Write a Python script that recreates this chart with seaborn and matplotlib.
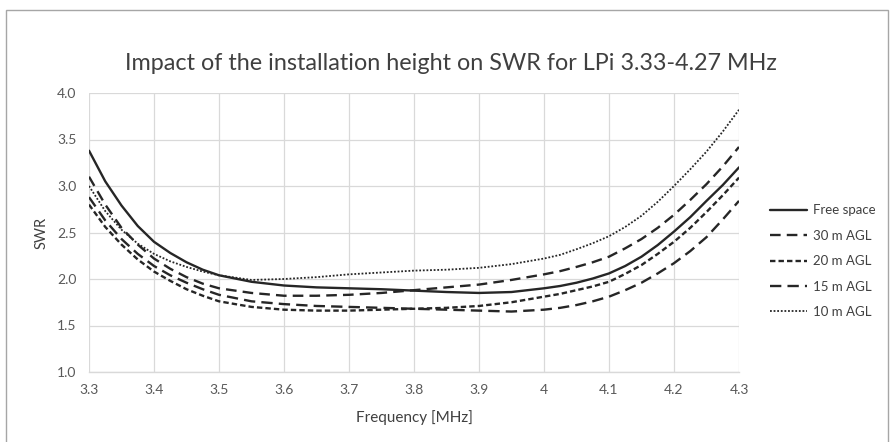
import numpy as np
import pandas as pd
import matplotlib
matplotlib.use("Agg")
import matplotlib.pyplot as plt
from matplotlib.patches import Rectangle
import seaborn as sns

freq = [3.300, 3.325, 3.350, 3.375, 3.400, 3.425, 3.450, 3.475, 3.500, 3.550,
        3.600, 3.650, 3.700, 3.750, 3.800, 3.850, 3.900, 3.950, 4.000, 4.025,
        4.050, 4.075, 4.100, 4.125, 4.150, 4.175, 4.200, 4.225, 4.250, 4.275,
        4.300]

free_space = [3.38, 3.05, 2.79, 2.57, 2.40, 2.28, 2.18, 2.10, 2.04, 1.97,
              1.93, 1.91, 1.90, 1.89, 1.875, 1.86, 1.85, 1.86, 1.90, 1.925,
              1.96, 2.005, 2.06, 2.14, 2.24, 2.365, 2.51, 2.665, 2.84, 3.01,
              3.20]
agl_30 = [3.10, 2.80, 2.55, 2.37, 2.22, 2.11, 2.02, 1.95, 1.90, 1.85,
          1.82, 1.82, 1.83, 1.85, 1.88, 1.91, 1.94, 1.99, 2.05, 2.085,
          2.13, 2.18, 2.24, 2.33, 2.43, 2.55, 2.69, 2.85, 3.02, 3.21,
          3.42]
agl_20 = [2.80, 2.56, 2.37, 2.21, 2.08, 1.98, 1.89, 1.82, 1.76, 1.70,
          1.67, 1.66, 1.66, 1.67, 1.68, 1.69, 1.71, 1.75, 1.81, 1.84,
          1.88, 1.92, 1.97, 2.055, 2.15, 2.27, 2.40, 2.55, 2.72, 2.90,
          3.09]
agl_15 = [2.88, 2.63, 2.43, 2.27, 2.14, 2.04, 1.96, 1.89, 1.83, 1.76,
          1.73, 1.71, 1.70, 1.69, 1.68, 1.67, 1.66, 1.65, 1.67, 1.69,
          1.72, 1.76, 1.81, 1.88, 1.96, 2.06, 2.17, 2.30, 2.45, 2.64,
          2.84]
agl_10 = [3.00, 2.73, 2.53, 2.38, 2.27, 2.19, 2.13, 2.08, 2.04, 1.99,
          2.00, 2.02, 2.05, 2.07, 2.09, 2.10, 2.12, 2.16, 2.22, 2.26,
          2.32, 2.385, 2.46, 2.56, 2.68, 2.83, 3.00, 3.18, 3.37, 3.585,
          3.82]

series_names = ["Free space", "30 m AGL", "20 m AGL", "15 m AGL", "10 m AGL"]
series_values = [free_space, agl_30, agl_20, agl_15, agl_10]

x_ticks = [3.3, 3.4, 3.5, 3.6, 3.7, 3.8, 3.9, 4.0, 4.1, 4.2, 4.3]
x_tick_labels = ["3.3", "3.4", "3.5", "3.6", "3.7", "3.8", "3.9", "4", "4.1", "4.2", "4.3"]
y_ticks = [1.0, 1.5, 2.0, 2.5, 3.0, 3.5, 4.0]

title = "Impact of the installation height on SWR for LPi 3.33-4.27 MHz"

df = pd.DataFrame({
    "Frequency": np.tile(freq, len(series_names)),
    "SWR": np.concatenate(series_values),
    "Series": np.repeat(series_names, len(freq)),
})

sns.set_theme(style="white")
plt.rcParams["font.family"] = ["Lato", "DejaVu Sans"]

W, H = 894, 442
fig = plt.figure(figsize=(W / 100, H / 100), dpi=100)
ax = fig.add_axes([89 / W, 1 - 372 / H, (739 - 89) / W, (372 - 93) / H])

styles = {
    "Free space": dict(ls="-", lw=1.7),
    "30 m AGL": dict(ls=(0, (4.5, 2.6)), lw=1.7),
    "20 m AGL": dict(ls=(0, (2.3, 1.3)), lw=1.7),
    "15 m AGL": dict(ls=(0, (4.8, 2.6)), lw=1.7),
    "10 m AGL": dict(ls=(0, (1.0, 1.0)), lw=1.3),
}
line_color = "#262626"
for name in series_names:
    sub = df[df["Series"] == name]
    st = styles[name]
    sns.lineplot(data=sub, x="Frequency", y="SWR", ax=ax, color=line_color,
                 linestyle=st["ls"], linewidth=st["lw"], label=name,
                 estimator=None, sort=False)

ax.set_xlim(3.3, 4.3)
ax.set_ylim(1.0, 4.0)
ax.set_xticks(x_ticks)
ax.set_xticklabels(x_tick_labels)
ax.set_yticks(y_ticks)
ax.set_yticklabels([f"{v:.1f}" for v in y_ticks])

grid_c = "#d9d9d9"
ax.grid(True, color=grid_c, linewidth=0.9)
ax.set_axisbelow(True)
for s in ["top", "right", "left"]:
    ax.spines[s].set_visible(False)
ax.spines["bottom"].set_color(grid_c)
ax.spines["bottom"].set_linewidth(1.0)

tick_c = "#595959"
ax.tick_params(axis="x", length=0, pad=9, labelsize=10, labelcolor=tick_c)
ax.tick_params(axis="y", length=0, pad=9, labelsize=10, labelcolor=tick_c)

ax.set_xlabel("Frequency [MHz]", fontsize=11, color="#404040")
ax.set_ylabel("SWR", fontsize=10.5, color="#404040")
ax.xaxis.set_label_coords(0.5, -0.135)
ax.yaxis.set_label_coords(-0.062, 0.5)

fig.text(451 / W, 1 - 63 / H, title, ha="center", va="center",
         fontsize=16.8, color="#404040")

ax.get_legend().remove()
handles, labels = ax.get_legend_handles_labels()
leg = fig.legend(handles, labels, loc="upper left",
                 bbox_to_anchor=(765 / W, 1 - 199 / H), frameon=False,
                 fontsize=9.5, handlelength=2.8, handletextpad=0.45,
                 labelspacing=1.02, borderaxespad=0)
for t in leg.get_texts():
    t.set_color("#404040")

fig.patches.append(Rectangle((6 / W, -0.02), (888 - 6) / W, (1 - 10 / H) + 0.02,
                             transform=fig.transFigure, fill=False,
                             edgecolor="#a6a6a6", linewidth=1.0))

fig.savefig("out.png", dpi=100)
